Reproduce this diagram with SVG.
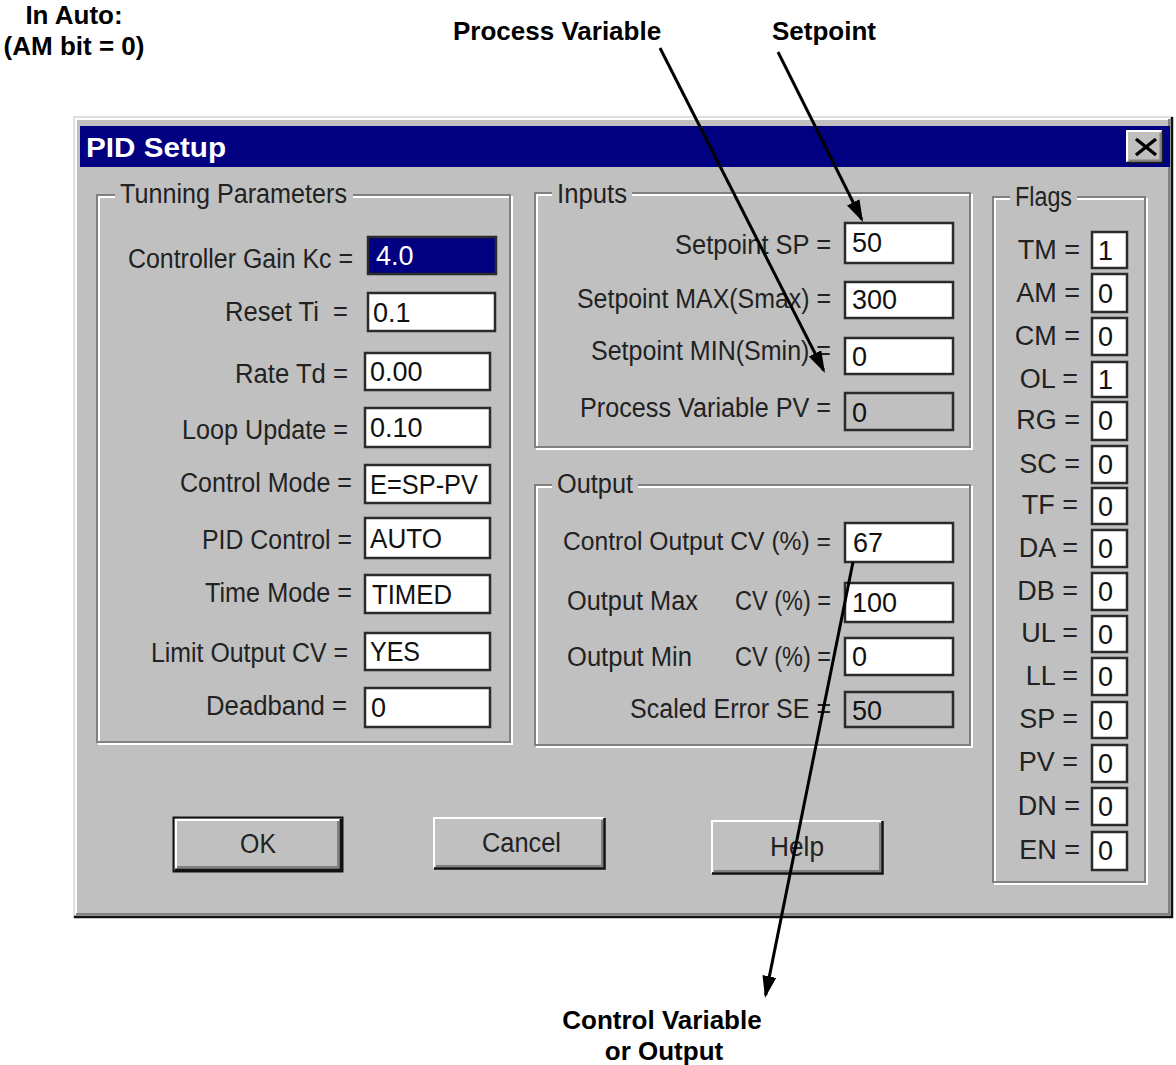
<svg xmlns="http://www.w3.org/2000/svg" width="1176" height="1065" viewBox="0 0 1176 1065">
  <style>
    .ui { font-family: "Liberation Sans", Arial, sans-serif; font-size: 27px; fill: #222; }
    .val { font-family: "Liberation Sans", Arial, sans-serif; font-size: 27px; fill: #111; }
    .note { font-family: "Liberation Sans", Arial, sans-serif; font-weight: bold; font-size: 26px; fill: #000; }
    .title { font-family: "Liberation Sans", Arial, sans-serif; font-weight: bold; font-size: 27px; fill: #fff; }
    .field { fill: #fff; stroke: #2b2b2b; stroke-width: 2.5; }
    .field-ro { fill: #c0c0c0; stroke: #2b2b2b; stroke-width: 2.5; }
    .etch-d { fill: none; stroke: #808080; stroke-width: 2; }
    .etch-l { fill: none; stroke: #fff; stroke-width: 2; }
    .face { fill: #c0c0c0; }
    .hi { stroke: #fff; stroke-width: 2; fill: none; }
    .lo { stroke: #808080; stroke-width: 2; fill: none; }
    .dk { stroke: #1a1a1a; stroke-width: 2; fill: none; }
    .arrow { stroke: #000; stroke-width: 3; fill: none; marker-end: url(#ah); }
  </style>
  <defs>
    <marker id="ah" markerUnits="userSpaceOnUse" markerWidth="22" markerHeight="14" refX="19" refY="7" orient="auto">
      <path d="M0,0 L22,7 L0,14 z" fill="#000"/>
    </marker>
  </defs>

  <rect width="1176" height="1065" fill="#fff"/>

  <!-- Dialog window -->
  <g id="dialog">
    <rect x="73" y="116" width="1100" height="802" class="face"/>
    <path d="M74,917 V117 H1172" stroke="#dfdfdf" stroke-width="2" fill="none"/>
    <path d="M76,915 V119 H1170" class="hi"/>
    <path d="M74,917 H1172 V117" stroke="#111" stroke-width="2.5" fill="none"/>
    <path d="M76,914 H1169 V119" class="lo"/>

    <!-- title bar -->
    <rect x="80" y="126" width="1090" height="41" fill="#000080"/>
    <text class="title" x="86" y="157" textLength="140" lengthAdjust="spacingAndGlyphs">PID Setup</text>
    <g id="close-button">
      <rect x="1127" y="131" width="36" height="32" class="face"/>
      <path d="M1127,162 V131 H1162" class="hi"/>
      <path d="M1127,162.5 H1162.5 V131" class="dk"/>
      <path d="M1129,160.5 H1160.5 V133" class="lo"/>
      <path d="M1136,139 L1156,155 M1156,139 L1136,155" stroke="#000" stroke-width="3.5"/>
    </g>
  </g>

  <!-- Tuning parameters group -->
  <g id="group-tuning">
    <rect x="99" y="197" width="413" height="547" class="etch-l"/>
    <rect x="97" y="195" width="413" height="547" class="etch-d"/>
    <rect x="115" y="185" width="238" height="20" class="face"/>
    <text class="ui" x="120" y="203" textLength="227" lengthAdjust="spacingAndGlyphs">Tunning Parameters</text>

    <g id="kc">
      <text class="ui" x="128" y="268" textLength="225" lengthAdjust="spacingAndGlyphs">Controller Gain Kc =</text>
      <rect x="368" y="237" width="128" height="37" fill="#000080" stroke="#2b2b2b" stroke-width="2.5"/>
      <text class="val" x="376" y="265" style="fill:#fff">4.0</text>
    </g>
    <g id="reset-ti">
      <text class="ui" x="225" y="321" textLength="123" lengthAdjust="spacingAndGlyphs" xml:space="preserve">Reset Ti  =</text>
      <rect x="368" y="293" width="127" height="38" class="field"/>
      <text class="val" x="373" y="322">0.1</text>
    </g>
    <g id="rate-td">
      <text class="ui" x="235" y="383" textLength="113" lengthAdjust="spacingAndGlyphs">Rate Td =</text>
      <rect x="365" y="353" width="125" height="37" class="field"/>
      <text class="val" x="370" y="381">0.00</text>
    </g>
    <g id="loop-update">
      <text class="ui" x="182" y="439" textLength="166" lengthAdjust="spacingAndGlyphs">Loop Update =</text>
      <rect x="365" y="408" width="125" height="39" class="field"/>
      <text class="val" x="370" y="437">0.10</text>
    </g>
    <g id="control-mode">
      <text class="ui" x="180" y="492" textLength="172" lengthAdjust="spacingAndGlyphs">Control Mode =</text>
      <rect x="365" y="465" width="125" height="38" class="field"/>
      <text class="val" x="370" y="494" textLength="108" lengthAdjust="spacingAndGlyphs">E=SP-PV</text>
    </g>
    <g id="pid-control">
      <text class="ui" x="202" y="549" textLength="150" lengthAdjust="spacingAndGlyphs">PID Control =</text>
      <rect x="365" y="518" width="125" height="40" class="field"/>
      <text class="val" x="370" y="548" textLength="72" lengthAdjust="spacingAndGlyphs">AUTO</text>
    </g>
    <g id="time-mode">
      <text class="ui" x="205" y="602" textLength="147" lengthAdjust="spacingAndGlyphs">Time Mode =</text>
      <rect x="365" y="575" width="125" height="38" class="field"/>
      <text class="val" x="372" y="604" textLength="80" lengthAdjust="spacingAndGlyphs">TIMED</text>
    </g>
    <g id="limit-output">
      <text class="ui" x="151" y="662" textLength="197" lengthAdjust="spacingAndGlyphs">Limit Output CV =</text>
      <rect x="365" y="633" width="125" height="37" class="field"/>
      <text class="val" x="370" y="661" textLength="50" lengthAdjust="spacingAndGlyphs">YES</text>
    </g>
    <g id="deadband">
      <text class="ui" x="206" y="715" textLength="141" lengthAdjust="spacingAndGlyphs">Deadband =</text>
      <rect x="365" y="688" width="125" height="39" class="field"/>
      <text class="val" x="371" y="717">0</text>
    </g>
  </g>

  <!-- Inputs group -->
  <g id="group-inputs">
    <rect x="537" y="195" width="435" height="254" class="etch-l"/>
    <rect x="535" y="193" width="435" height="254" class="etch-d"/>
    <rect x="552" y="183" width="80" height="20" class="face"/>
    <text class="ui" x="557" y="203" textLength="70" lengthAdjust="spacingAndGlyphs">Inputs</text>

    <g id="setpoint-sp">
      <text class="ui" x="675" y="254" textLength="156" lengthAdjust="spacingAndGlyphs">Setpoint SP =</text>
      <rect x="845" y="223" width="108" height="40" class="field"/>
      <text class="val" x="852" y="252">50</text>
    </g>
    <g id="setpoint-max">
      <text class="ui" x="577" y="308" textLength="254" lengthAdjust="spacingAndGlyphs">Setpoint MAX(Smax) =</text>
      <rect x="845" y="282" width="108" height="36" class="field"/>
      <text class="val" x="852" y="309">300</text>
    </g>
    <g id="setpoint-min">
      <text class="ui" x="591" y="360" textLength="240" lengthAdjust="spacingAndGlyphs">Setpoint MIN(Smin) =</text>
      <rect x="845" y="338" width="108" height="36" class="field"/>
      <text class="val" x="852" y="366">0</text>
    </g>
    <g id="process-variable-pv">
      <text class="ui" x="580" y="417" textLength="251" lengthAdjust="spacingAndGlyphs">Process Variable PV =</text>
      <rect x="845" y="393" width="108" height="37" class="field-ro"/>
      <text class="val" x="852" y="422">0</text>
    </g>
  </g>

  <!-- Output group -->
  <g id="group-output">
    <rect x="537" y="487" width="435" height="260" class="etch-l"/>
    <rect x="535" y="485" width="435" height="260" class="etch-d"/>
    <rect x="552" y="475" width="86" height="20" class="face"/>
    <text class="ui" x="557" y="493" textLength="76" lengthAdjust="spacingAndGlyphs">Output</text>

    <g id="control-output-cv">
      <text class="ui" x="563" y="550" style="font-size:25px" textLength="268" lengthAdjust="spacingAndGlyphs">Control Output CV (%) =</text>
      <rect x="845" y="523" width="108" height="39" class="field"/>
      <text class="val" x="853" y="552">67</text>
    </g>
    <g id="output-max">
      <text class="ui" x="567" y="610" textLength="131" lengthAdjust="spacingAndGlyphs">Output Max</text>
      <text class="ui" x="735" y="610" textLength="96" lengthAdjust="spacingAndGlyphs">CV (%) =</text>
      <rect x="845" y="583" width="108" height="39" class="field"/>
      <text class="val" x="852" y="612">100</text>
    </g>
    <g id="output-min">
      <text class="ui" x="567" y="666" textLength="125" lengthAdjust="spacingAndGlyphs">Output Min</text>
      <text class="ui" x="735" y="666" textLength="96" lengthAdjust="spacingAndGlyphs">CV (%) =</text>
      <rect x="845" y="638" width="108" height="37" class="field"/>
      <text class="val" x="852" y="666">0</text>
    </g>
    <g id="scaled-error">
      <text class="ui" x="630" y="718" textLength="201" lengthAdjust="spacingAndGlyphs">Scaled Error SE =</text>
      <rect x="845" y="692" width="108" height="35" class="field-ro"/>
      <text class="val" x="852" y="720">50</text>
    </g>
  </g>

  <!-- Flags group -->
  <g id="group-flags">
    <rect x="995" y="199" width="152" height="685" class="etch-l"/>
    <rect x="993" y="197" width="152" height="685" class="etch-d"/>
    <rect x="1010" y="187" width="67" height="20" class="face"/>
    <text class="ui" x="1015" y="206" textLength="57" lengthAdjust="spacingAndGlyphs">Flags</text>

    <g id="flag-tm"><text class="ui" x="1080" y="259" text-anchor="end">TM =</text><rect x="1092" y="232" width="35" height="36" class="field"/><text class="val" x="1098" y="260">1</text></g>
    <g id="flag-am"><text class="ui" x="1080" y="302" text-anchor="end">AM =</text><rect x="1092" y="274" width="35" height="38" class="field"/><text class="val" x="1098" y="303">0</text></g>
    <g id="flag-cm"><text class="ui" x="1080" y="345" text-anchor="end">CM =</text><rect x="1092" y="318" width="35" height="37" class="field"/><text class="val" x="1098" y="346">0</text></g>
    <g id="flag-ol"><text class="ui" x="1078" y="388" text-anchor="end">OL =</text><rect x="1092" y="362" width="35" height="35" class="field"/><text class="val" x="1098" y="389">1</text></g>
    <g id="flag-rg"><text class="ui" x="1080" y="429" text-anchor="end">RG =</text><rect x="1092" y="402" width="35" height="38" class="field"/><text class="val" x="1098" y="430">0</text></g>
    <g id="flag-sc"><text class="ui" x="1080" y="473" text-anchor="end">SC =</text><rect x="1092" y="446" width="35" height="37" class="field"/><text class="val" x="1098" y="474">0</text></g>
    <g id="flag-tf"><text class="ui" x="1078" y="514" text-anchor="end">TF =</text><rect x="1092" y="488" width="35" height="36" class="field"/><text class="val" x="1098" y="516">0</text></g>
    <g id="flag-da"><text class="ui" x="1078" y="557" text-anchor="end">DA =</text><rect x="1092" y="530" width="35" height="37" class="field"/><text class="val" x="1098" y="558">0</text></g>
    <g id="flag-db"><text class="ui" x="1078" y="600" text-anchor="end">DB =</text><rect x="1092" y="573" width="35" height="37" class="field"/><text class="val" x="1098" y="601">0</text></g>
    <g id="flag-ul"><text class="ui" x="1078" y="642" text-anchor="end">UL =</text><rect x="1092" y="616" width="35" height="36" class="field"/><text class="val" x="1098" y="644">0</text></g>
    <g id="flag-ll"><text class="ui" x="1078" y="685" text-anchor="end">LL =</text><rect x="1092" y="658" width="35" height="37" class="field"/><text class="val" x="1098" y="686">0</text></g>
    <g id="flag-sp"><text class="ui" x="1078" y="728" text-anchor="end">SP =</text><rect x="1092" y="702" width="35" height="36" class="field"/><text class="val" x="1098" y="730">0</text></g>
    <g id="flag-pv"><text class="ui" x="1078" y="771" text-anchor="end">PV =</text><rect x="1092" y="745" width="35" height="37" class="field"/><text class="val" x="1098" y="773">0</text></g>
    <g id="flag-dn"><text class="ui" x="1080" y="815" text-anchor="end">DN =</text><rect x="1092" y="788" width="35" height="37" class="field"/><text class="val" x="1098" y="816">0</text></g>
    <g id="flag-en"><text class="ui" x="1080" y="859" text-anchor="end">EN =</text><rect x="1092" y="832" width="35" height="38" class="field"/><text class="val" x="1098" y="860">0</text></g>
  </g>

  <!-- Buttons -->
  <g id="button-ok">
    <rect x="173" y="817" width="170" height="55" class="face"/>
    <rect x="173.5" y="817.5" width="169" height="54" fill="none" stroke="#111" stroke-width="2"/>
    <path d="M176,869 V820 H340" class="hi"/>
    <path d="M175,870 H341 V819" stroke="#111" stroke-width="3" fill="none"/>
    <path d="M177,867 H338 V821" class="lo"/>
    <text class="ui" x="240" y="853" textLength="36" lengthAdjust="spacingAndGlyphs">OK</text>
  </g>
  <g id="button-cancel">
    <rect x="433" y="817" width="172" height="52" class="face"/>
    <path d="M434,868 V818 H604" class="hi"/>
    <path d="M434,868.5 H604.5 V818" stroke="#111" stroke-width="2.5" fill="none"/>
    <path d="M436,866 H602 V820" class="lo"/>
    <text class="ui" x="482" y="852" textLength="79" lengthAdjust="spacingAndGlyphs">Cancel</text>
  </g>
  <g id="button-help">
    <rect x="711" y="820" width="172" height="54" class="face"/>
    <path d="M712,873 V821 H882" class="hi"/>
    <path d="M712,873.5 H882.5 V821" stroke="#111" stroke-width="2.5" fill="none"/>
    <path d="M714,871 H880 V823" class="lo"/>
    <text class="ui" x="770" y="856" textLength="54" lengthAdjust="spacingAndGlyphs">Help</text>
  </g>

  <!-- Callout labels -->
  <g id="note-in-auto">
    <text class="note" x="74" y="24" text-anchor="middle">In Auto:</text>
    <text class="note" x="74" y="55" text-anchor="middle">(AM bit = 0)</text>
  </g>
  <g id="note-process-variable">
    <text class="note" x="453" y="40">Process Variable</text>
  </g>
  <g id="note-setpoint">
    <text class="note" x="772" y="40">Setpoint</text>
  </g>
  <g id="note-control-variable">
    <text class="note" x="662" y="1029" text-anchor="middle">Control Variable</text>
    <text class="note" x="664" y="1060" text-anchor="middle">or Output</text>
  </g>

  <!-- Callout arrows -->
  <g id="connectors">
    <line class="arrow" x1="660" y1="48" x2="823.6" y2="370.3"/>
    <line class="arrow" x1="778" y1="52" x2="861.7" y2="219.3"/>
    <line class="arrow" x1="853" y1="562" x2="765.6" y2="995.1"/>
  </g>
</svg>
